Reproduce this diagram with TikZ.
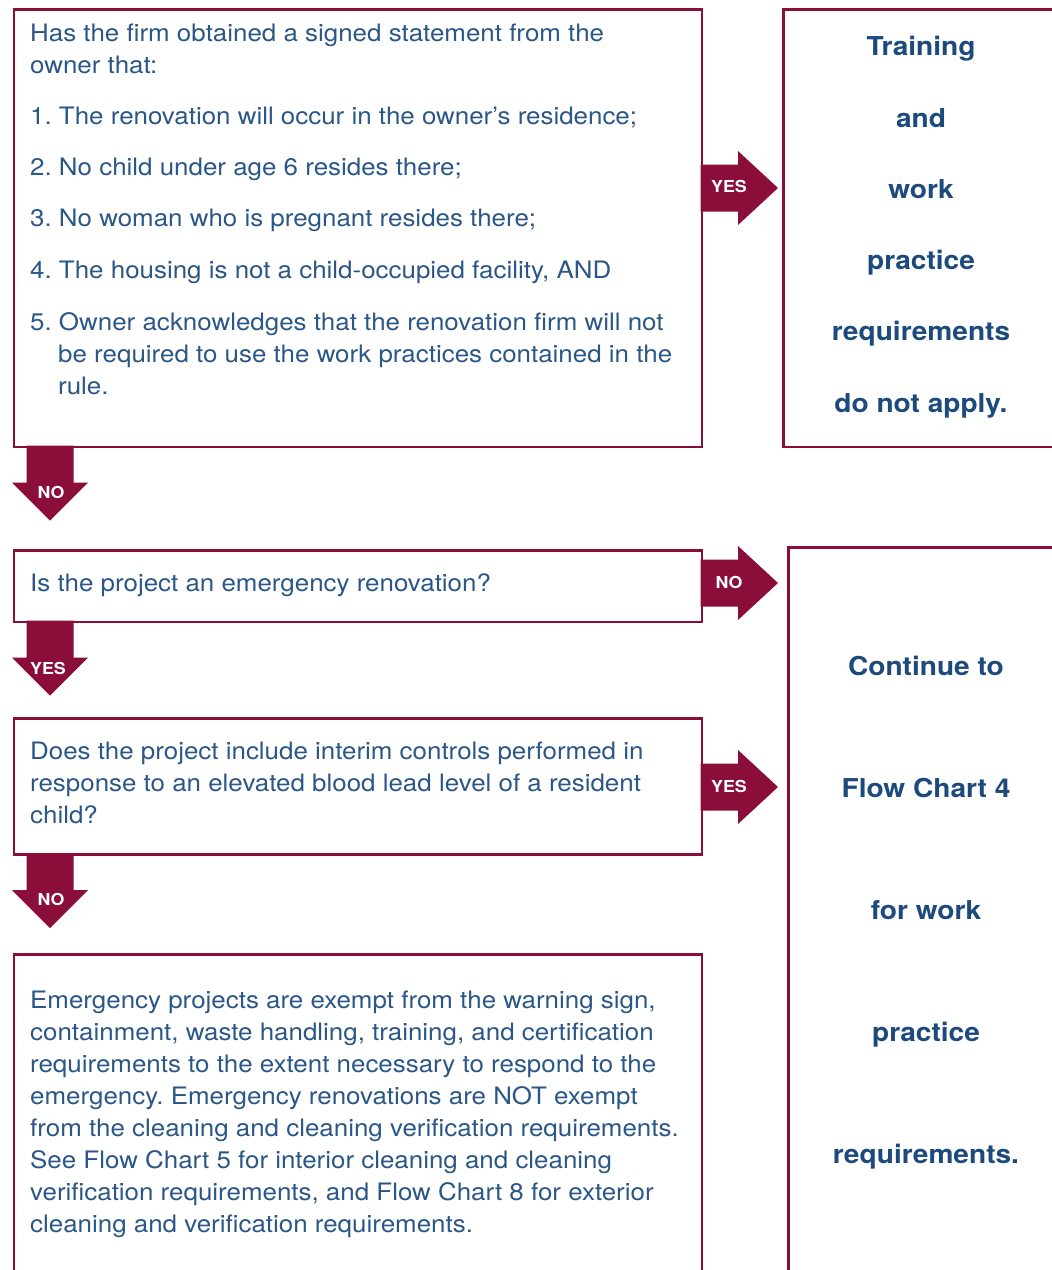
\documentclass[tikz,border=0pt]{standalone}
\usepackage{fontspec}
\setmainfont{TeX Gyre Heros}[FakeStretch=1.08]
\definecolor{crim}{HTML}{8B0E3A}
\definecolor{tblue}{HTML}{2A5787}
\definecolor{bblue}{HTML}{1D4A7D}
\frenchspacing
\begin{document}
\begin{tikzpicture}[x=1pt,y=-1pt,
  box/.style={draw=crim,line width=2.5pt,anchor=north west,inner sep=0pt},
  ln/.style={anchor=base west,inner sep=0pt,text=tblue,font=\fontsize{24}{32}\selectfont},
  rt/.style={anchor=base,inner sep=0pt,text=bblue,font=\fontsize{26}{32}\selectfont\bfseries},
  lab/.style={text=white,font=\fontsize{16.5}{18}\selectfont\bfseries,inner sep=0pt},
  rarr/.pic={\fill[crim] (0,-23.5) -- (37.5,-23.5) -- (37.5,-37) -- (77.5,0) -- (37.5,37) -- (37.5,23.5) -- (0,23.5) -- cycle;},
  darr/.pic={\fill[crim] (-23.5,0) -- (23.5,0) -- (23.5,37) -- (38,37) -- (0,75) -- (-38,37) -- (-23.5,37) -- cycle;}]
\useasboundingbox (0,0) rectangle (1052,1270);
\clip (0,0) rectangle (1052,1270);
\fill[white] (0,0) rectangle (1052,1270);

% boxes
\node[box,minimum width=688pt,minimum height=437.5pt] (q1) at (12.5,8) {};
\node[box,minimum width=688pt,minimum height=71.5pt] (q2) at (12.5,549) {};
\node[box,minimum width=688pt,minimum height=136pt] (q3) at (12.5,717) {};
\node[box,minimum width=688pt,minimum height=400pt] (q4) at (12.5,953) {};
\node[box,minimum width=300pt,minimum height=437.5pt] (r1) at (782,8) {};
\node[box,minimum width=300pt,minimum height=800pt] (r2) at (787,546) {};

% box 1 text
\node[ln] (t11) at (30,41) {Has the firm obtained a signed statement from the};
\node[ln] (t12) at (30,73) {owner that:};
\node[ln] (t13) at (30,124) {1. The renovation will occur in the owner’s residence;};
\node[ln] (t14) at (30,175) {2. No child under age 6 resides there;};
\node[ln] (t15) at (30,226) {3. No woman who is pregnant resides there;};
\node[ln] (t16) at (30,278) {4. The housing is not a child-occupied facility, AND};
\node[ln] (t17) at (30,330) {5. Owner acknowledges that the renovation firm will not};
\node[ln] (t18) at (58,362) {be required to use the work practices contained in the};
\node[ln] (t19) at (58,394) {rule.};

% box 2 text
\node[ln] (t21) at (30,591) {Is the project an emergency renovation?};

% box 3 text
\node[ln] (t31) at (30,759) {Does the project include interim controls performed in};
\node[ln] (t32) at (30,791) {response to an elevated blood lead level of a resident};
\node[ln] (t33) at (30,823) {child?};

% box 4 text
\node[ln] (t41) at (30,1008) {Emergency projects are exempt from the warning sign,};
\node[ln] (t42) at (30,1040) {containment, waste handling, training, and certification};
\node[ln] (t43) at (30,1072) {requirements to the extent necessary to respond to the};
\node[ln] (t44) at (30,1104) {emergency. Emergency renovations are NOT exempt};
\node[ln] (t45) at (30,1136) {from the cleaning and cleaning verification requirements.};
\node[ln] (t46) at (30,1168) {See Flow Chart 5 for interior cleaning and cleaning};
\node[ln] (t47) at (30,1200) {verification requirements, and Flow Chart 8 for exterior};
\node[ln] (t48) at (30,1232) {cleaning and verification requirements.};

% right box 1 text
\node[rt] (s11) at (921,55) {Training};
\node[rt] (s12) at (921,127) {and};
\node[rt] (s13) at (921,198) {work};
\node[rt] (s14) at (921,269) {practice};
\node[rt] (s15) at (921,340) {requirements};
\node[rt] (s16) at (921,412) {do not apply.};

% right box 2 text
\node[rt] (s21) at (926,675) {Continue to};
\node[rt] (s22) at (926,797) {Flow Chart 4};
\node[rt] (s23) at (926,919) {for work};
\node[rt] (s24) at (926,1041) {practice};
\node[rt] (s25) at (926,1163) {requirements.};

% arrows
\coordinate (a1) at (700.5,188);
\coordinate (a2) at (700.5,583);
\coordinate (a3) at (700.5,787);
\coordinate (d1) at (50,445.5);
\coordinate (d2) at (50,620.5);
\coordinate (d3) at (50,853);
\pic at (a1) {rarr};
\pic at (a2) {rarr};
\pic at (a3) {rarr};
\pic at (d1) {darr};
\pic at (d2) {darr};
\pic at (d3) {darr};
\node[lab] (l1) at (729,186) {YES};
\node[lab] (l2) at (729,582) {NO};
\node[lab] (l3) at (729,786) {YES};
\node[lab] (l4) at (51,492) {NO};
\node[lab] (l5) at (48,668) {YES};
\node[lab] (l6) at (51,899) {NO};
\end{tikzpicture}
\end{document}
